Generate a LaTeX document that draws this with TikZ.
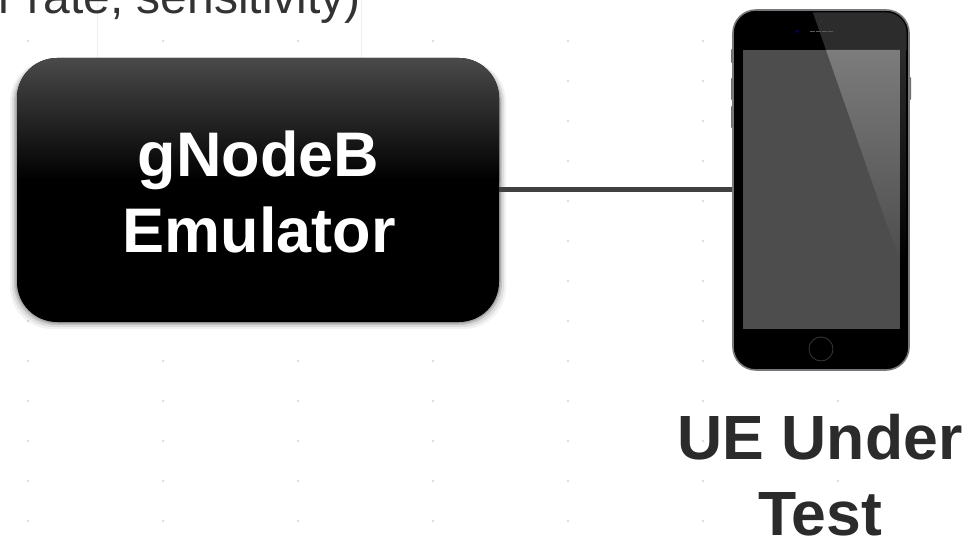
\documentclass[tikz,border=0pt]{standalone}
\usepackage{fontspec}
\setmainfont{Liberation Sans}
\definecolor{inktxt}{HTML}{2B2B2B}
\definecolor{captxt}{HTML}{333333}
\definecolor{linkcol}{HTML}{404040}
\definecolor{dotcol}{HTML}{DDDDDD}
\definecolor{boxtop}{HTML}{4A4A4A}
\definecolor{rimcol}{HTML}{77777C}
\definecolor{screencol}{HTML}{4D4D4D}
\definecolor{glarecol}{HTML}{7C7C7C}
\definecolor{bezelglare}{HTML}{2C2C2C}
\definecolor{sidecol}{HTML}{6E6E72}
\tikzset{
  labeltext/.style={font=\bfseries\fontsize{62.5}{76}\selectfont,align=center,inner sep=0pt},
  gnbbox/.style={rectangle,rounded corners=40pt,minimum width=482pt,minimum height=264pt,inner sep=0pt,fill=black},
  phonebody/.style={rectangle,rounded corners=23pt,minimum width=176pt,minimum height=360pt,inner sep=0pt,fill=black},
  link/.style={draw=linkcol,line width=5pt},
  sidebtn/.style={fill=sidecol,rounded corners=0.8pt},
  bgdot/.style={fill=dotcol,draw=none}
}
\begin{document}
\begin{tikzpicture}[x=1pt,y=-1pt]
\useasboundingbox (0,0) rectangle (969,537);
\fill[white] (0,0) rectangle (969,537);
% faint background
\draw[gray!12,line width=0.5pt] (97,0) -- (97,58);
\draw[gray!12,line width=0.5pt] (361,0) -- (361,58);
\foreach \i in {0,...,6}{
  \foreach \j in {0,...,12}{
    \fill[bgdot] ({28+135*\i},{41+40*\j}) circle (1.3pt);
  }
}
% top cut-off text
\node[anchor=base east,inner sep=0pt,text=captxt,font=\fontsize{48}{50}\selectfont] (caption) at (361,14) {r rate, sensitivity)};
% shadow
\foreach \d/\o in {7/0.05,5/0.08,3/0.12,1.5/0.16}{
  \fill[black,opacity=\o,rounded corners=42pt] ({17-\d},{58+2}) rectangle ({499+\d},{322+\d});
}
% gNodeB box: gradient built from thin strips, node-centred coordinates
\node[gnbbox,path picture={
    \foreach \s in {0,...,61}{
      \pgfmathsetmacro{\pct}{100*(1-\s/61)}
      \fill[boxtop!\pct!black] (-300,{-132+2*\s}) rectangle (300,{-132+2*\s+2.4});
    }
  }] (gnb) at (258,190) {};
\node[labeltext,text=white,anchor=base,font=\bfseries\fontsize{63}{76}\selectfont] (gnbl1) at (258.5,177) {gNodeB};
\node[labeltext,text=white,anchor=base,font=\bfseries\fontsize{63}{76}\selectfont] (gnbl2) at (259,253) {Emulator};
% phone side buttons
\fill[sidebtn] (731,49) rectangle (734,63);
\fill[sidebtn] (731,78) rectangle (734,100);
\fill[sidebtn] (731,106) rectangle (734,128);
\fill[sidebtn] (908,77) rectangle (911,100);
% phone
\node[phonebody,draw=rimcol,line width=1.6pt] (phone) at (821,190) {};
\node[rectangle,rounded corners=20pt,minimum width=171pt,minimum height=355pt,inner sep=0pt,fill=black] (bezel) at (821,190) {};
% bezel glare
\begin{scope}
  \clip[rounded corners=20pt] (735.5,12.5) rectangle (906.5,367.5);
  \fill[bezelglare] (812,10) -- (909,10) -- (909,50) -- (826,50) -- cycle;
  \shade[top color=bezelglare,bottom color=black] (900,50) rectangle (909,265);
\end{scope}
% screen
\node[rectangle,minimum width=157pt,minimum height=279pt,inner sep=0pt,fill=screencol] (screen) at (821.5,189.5) {};
\shade[top color=glarecol,bottom color=screencol,shading angle=0] (826,50) -- (900,50) -- (900,262) -- cycle;
% camera, speaker, home button
\fill[blue!45!black] (797,31.5) circle (1.6pt);
\draw[gray!70!black,line width=0.7pt,dash pattern=on 5pt off 1pt] (810,31.5) -- (834,31.5);
\fill[gray!45!black] (821,21) circle (0.8pt);
\node[circle,draw=gray!40!black,line width=0.9pt,minimum size=24pt,inner sep=0pt] (home) at (821,349) {};
% connector
\draw[link] (gnb.east) -- (gnb.east -| phone.west);
% phone label
\node[labeltext,text=inktxt,anchor=base] (uel1) at (820,459) {UE Under};
\node[labeltext,text=inktxt,anchor=base] (uel2) at (820,535) {Test};
\end{tikzpicture}
\end{document}
